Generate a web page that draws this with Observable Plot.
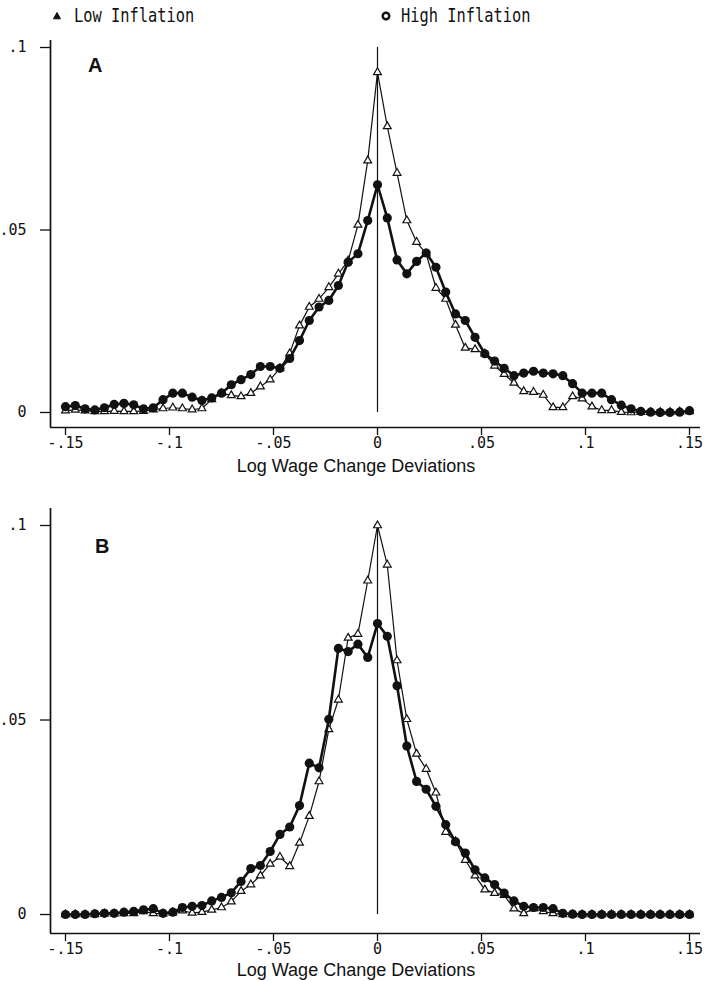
<!DOCTYPE html>
<html><head><meta charset="utf-8">
<script src="https://cdn.jsdelivr.net/npm/d3@7"></script>
<script src="https://cdn.jsdelivr.net/npm/@observablehq/plot@0.6"></script>
<style>
html,body{margin:0;padding:0;background:#fff;width:704px;height:981px;overflow:hidden}
#root{position:relative;width:704px;height:981px}
.abs{position:absolute}
.leg{font-family:"DejaVu Sans Mono",monospace;font-size:16px;line-height:18px;color:#111;white-space:nowrap;transform-origin:left center;transform:scale(0.96,1.2)}
.title{font-family:"Liberation Sans",Arial,sans-serif;font-size:18px;line-height:18px;color:#111;white-space:nowrap;transform:translateX(-50%)}
.panel{font-family:"Liberation Sans",Arial,sans-serif;font-weight:bold;font-size:20px;line-height:20px;color:#111}
</style></head>
<body><div id="root"></div>
<script>
// x positions of the plotted points (log wage change deviations)
const xValues = [-0.15,-0.1453,-0.1406,-0.1359,-0.1313,-0.1266,-0.1219,-0.1172,-0.1125,-0.1078,-0.1031,-0.0984,-0.0938,-0.0891,-0.0844,-0.0797,-0.075,-0.0703,-0.0656,-0.0609,-0.0563,-0.0516,-0.0469,-0.0422,-0.0375,-0.0328,-0.0281,-0.0234,-0.0188,-0.0141,-0.0094,-0.0047,0,0.0047,0.0094,0.0141,0.0188,0.0234,0.0281,0.0328,0.0375,0.0422,0.0469,0.0516,0.0563,0.0609,0.0656,0.0703,0.075,0.0797,0.0844,0.0891,0.0938,0.0984,0.1031,0.1078,0.1125,0.1172,0.1219,0.1266,0.1313,0.1359,0.1406,0.1453,0.15];

// Panel A
const lowA = [0.0005,0.0007,0.0005,0.0003,0.0003,0.0004,0.0003,0.0003,0.0004,0.0008,0.0011,0.0013,0.0011,0.0008,0.0011,0.0036,0.0053,0.0047,0.0044,0.0053,0.0071,0.0090,0.0121,0.0162,0.0238,0.0289,0.0311,0.0343,0.0380,0.0416,0.0514,0.0690,
  0.0932,
  0.0784,0.0656,0.0526,0.0467,0.0435,0.0341,0.0311,0.0240,0.0177,0.0173,0.0161,0.0128,0.0105,0.0081,0.0058,0.0056,0.0048,0.0014,0.0014,0.0044,0.0038,0.0016,0.0006,0.0006,0.0001,0.0000,0.0001,0.0001,0.0001,0.0001,0.0002,0.0003];
const highA = [0.0016,0.0019,0.0010,0.0007,0.0013,0.0022,0.0025,0.0021,0.0010,0.0013,0.0035,0.0053,0.0053,0.0042,0.0033,0.0040,0.0053,0.0076,0.0090,0.0104,0.0126,0.0126,0.0121,0.0148,0.0197,0.0252,0.0289,0.0307,0.0348,0.0412,0.0435,0.0526,
  0.0624,
  0.0533,0.0418,0.0380,0.0414,0.0437,0.0398,0.0330,0.0270,0.0252,0.0206,0.0161,0.0141,0.0121,0.0101,0.0108,0.0113,0.0108,0.0106,0.0101,0.0079,0.0053,0.0053,0.0053,0.0035,0.0020,0.0010,0.0003,0.0001,0.0000,0.0000,0.0001,0.0005];

// Panel B
const lowB = [0,0,0,0,0.0002,0.0002,0.0003,0.0003,0.0008,0.0003,0.0002,0.0005,0.0010,0.0004,0.0006,0.0012,0.0018,0.0033,0.0060,0.0077,0.0100,0.0130,0.0148,0.0124,0.0184,0.0253,0.0342,0.0476,0.0552,0.0711,0.0721,0.0858,
  0.1000,
  0.0899,0.0653,0.0502,0.0413,0.0374,0.0313,0.0212,0.0188,0.0140,0.0100,0.0064,0.0055,0.0050,0.0015,0.0003,0.0015,0.0008,0.0003,0,0,0,0,0,0,0,0,0,0,0,0,0,0];
const highB = [0,0,0,0.0002,0.0003,0.0003,0.0006,0.0008,0.0012,0.0015,0.0003,0.0006,0.0018,0.0021,0.0023,0.0035,0.0044,0.0056,0.0085,0.0118,0.0126,0.0162,0.0206,0.0225,0.0280,0.0389,0.0377,0.0502,0.0684,0.0676,0.0695,0.0661,
  0.0748,
  0.0715,0.0588,0.0433,0.0342,0.0322,0.0278,0.0231,0.0187,0.0158,0.0115,0.0094,0.0077,0.0055,0.0035,0.0021,0.0018,0.0018,0.0015,0.0003,0.0001,0,0,0,0,0,0,0,0,0,0,0,0];

const xTicks = [-0.15, -0.1, -0.05, 0, 0.05, 0.1, 0.15];
const yTicks = [0, 0.05, 0.1];
const seriesNames = ["Low Inflation", "High Inflation"];
const panelNames = ["A", "B"];
const axisTitle = "Log Wage Change Deviations";

const INK = "#111";
const fmt = d => d === 0 ? "0" : (d < 0 ? "-" : "") + String(Math.abs(d)).replace(/^0/, "");
const xDomain = [-0.15721, 0.15529];

function panel(low, high, yDomain, height, marginBottom) {
  const lowData = xValues.map((x, i) => ({x, y: low[i]}));
  const highData = xValues.map((x, i) => ({x, y: high[i]}));
  return Plot.plot({
    width: 704, height,
    marginLeft: 50, marginRight: 4, marginTop: 10, marginBottom,
    x: {domain: xDomain, label: null},
    y: {domain: yDomain, label: null},
    style: {fontFamily: "DejaVu Sans Mono, monospace", fontSize: "15px", color: INK, background: "white", overflow: "visible"},
    marks: [
      Plot.axisX({ticks: xTicks, tickSize: 8, tickPadding: 2, tickFormat: fmt, label: null, fontSize: 15, stroke: INK, strokeWidth: 1.3}),
      Plot.axisY({ticks: yTicks, tickSize: 10, tickPadding: 14, tickFormat: fmt, label: null, fontSize: 15, stroke: INK, strokeWidth: 1.3}),
      Plot.ruleY([yDomain[0]], {stroke: INK, strokeWidth: 1.7}),
      Plot.ruleX([xDomain[0]], {stroke: INK, strokeWidth: 1.7}),
      Plot.ruleX([0], {y1: 0, y2: 0.1, stroke: INK, strokeWidth: 1.2}),
      Plot.line(lowData, {x: "x", y: "y", stroke: INK, strokeWidth: 1.2}),
      Plot.dot(lowData, {x: "x", y: "y", symbol: "triangle", r: 2.9, fill: "white", stroke: INK, strokeWidth: 1.2}),
      Plot.line(highData, {x: "x", y: "y", stroke: INK, strokeWidth: 2.6}),
      Plot.dot(highData, {x: "x", y: "y", r: 4.6, fill: INK, stroke: "none"})
    ]
  });
}

const root = document.getElementById("root");
function place(el, left, top) {
  el.classList.add("abs");
  el.style.left = left + "px";
  el.style.top = top + "px";
  root.appendChild(el);
  return el;
}
function div(cls, text) {
  const d = document.createElement("div");
  d.className = cls;
  d.textContent = text;
  return d;
}

// Panel A: plot frame y 40..427 (0 at 412, .1 at 47)
const svgA = panel(lowA, highA, [-0.00411, 0.10192], 447, 50);
place(svgA, 0, 30);
// Panel B: plot frame y 508..933 (0 at 914, .1 at 525)
const svgB = panel(lowB, highB, [-0.00488, 0.10437], 480, 45);
place(svgB, 0, 498);

place(div("title", axisTitle), 356, 457);
place(div("title", axisTitle), 356, 961);
place(div("panel", panelNames[0]), 88, 55);
place(div("panel", panelNames[1]), 95, 536);

// legend
const ns = "http://www.w3.org/2000/svg";
function symbolSvg(kind) {
  const s = document.createElementNS(ns, "svg");
  s.setAttribute("width", 12); s.setAttribute("height", 12);
  if (kind === "triangle") {
    const p = document.createElementNS(ns, "path");
    p.setAttribute("d", "M6,2.5 L9.5,8.8 L2.5,8.8 Z");
    p.setAttribute("fill", INK); p.setAttribute("stroke", INK); p.setAttribute("stroke-width", "1");
    s.appendChild(p);
  } else {
    const c = document.createElementNS(ns, "circle");
    c.setAttribute("cx", 6); c.setAttribute("cy", 6); c.setAttribute("r", 3.3);
    c.setAttribute("fill", "white"); c.setAttribute("stroke", INK); c.setAttribute("stroke-width", "2.4");
    s.appendChild(c);
  }
  return s;
}
place(symbolSvg("triangle"), 51, 10);
place(div("leg", seriesNames[0]), 74, 7);
place(symbolSvg("circle"), 380, 10);
place(div("leg", seriesNames[1]), 401, 7);
</script>
</body></html>
